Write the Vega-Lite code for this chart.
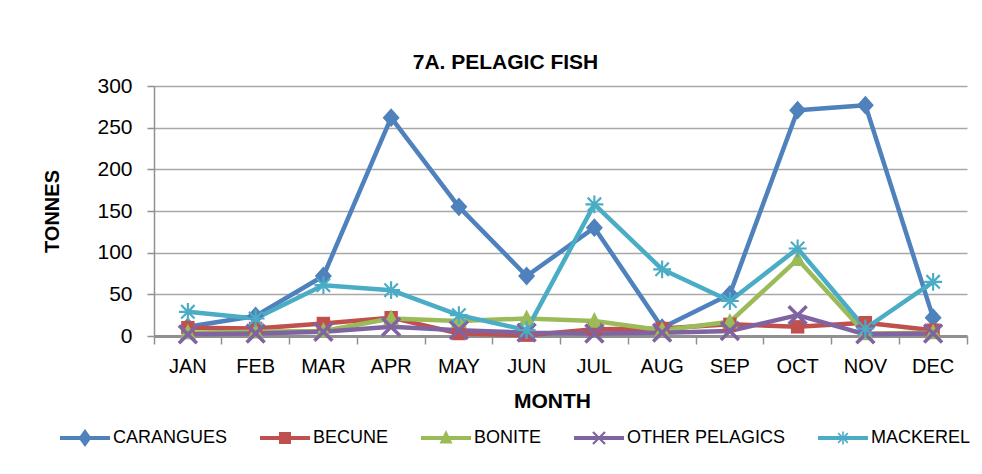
{
  "$schema": "https://vega.github.io/schema/vega-lite/v6.json",
  "width": 813,
  "height": 250,
  "autosize": "none",
  "padding": {"left": 154, "top": 86, "right": 15, "bottom": 138},
  "background": "white",
  "title": {
    "text": "7A. PELAGIC FISH",
    "font": "Liberation Sans",
    "fontSize": 21,
    "fontWeight": "bold",
    "color": "black",
    "anchor": "middle",
    "dx": -55,
    "offset": 2
  },
  "data": {
    "values": [
      {"month": "JAN", "series": "CARANGUES", "tonnes": 11},
      {"month": "FEB", "series": "CARANGUES", "tonnes": 24},
      {"month": "MAR", "series": "CARANGUES", "tonnes": 72},
      {"month": "APR", "series": "CARANGUES", "tonnes": 262},
      {"month": "MAY", "series": "CARANGUES", "tonnes": 155},
      {"month": "JUN", "series": "CARANGUES", "tonnes": 72},
      {"month": "JUL", "series": "CARANGUES", "tonnes": 130},
      {"month": "AUG", "series": "CARANGUES", "tonnes": 10},
      {"month": "SEP", "series": "CARANGUES", "tonnes": 50},
      {"month": "OCT", "series": "CARANGUES", "tonnes": 271},
      {"month": "NOV", "series": "CARANGUES", "tonnes": 277},
      {"month": "DEC", "series": "CARANGUES", "tonnes": 22},
      {"month": "JAN", "series": "BECUNE", "tonnes": 10},
      {"month": "FEB", "series": "BECUNE", "tonnes": 9},
      {"month": "MAR", "series": "BECUNE", "tonnes": 15},
      {"month": "APR", "series": "BECUNE", "tonnes": 22},
      {"month": "MAY", "series": "BECUNE", "tonnes": 3},
      {"month": "JUN", "series": "BECUNE", "tonnes": 1},
      {"month": "JUL", "series": "BECUNE", "tonnes": 8},
      {"month": "AUG", "series": "BECUNE", "tonnes": 9},
      {"month": "SEP", "series": "BECUNE", "tonnes": 14},
      {"month": "OCT", "series": "BECUNE", "tonnes": 11},
      {"month": "NOV", "series": "BECUNE", "tonnes": 16},
      {"month": "DEC", "series": "BECUNE", "tonnes": 7},
      {"month": "JAN", "series": "BONITE", "tonnes": 4},
      {"month": "FEB", "series": "BONITE", "tonnes": 5},
      {"month": "MAR", "series": "BONITE", "tonnes": 6},
      {"month": "APR", "series": "BONITE", "tonnes": 21},
      {"month": "MAY", "series": "BONITE", "tonnes": 18},
      {"month": "JUN", "series": "BONITE", "tonnes": 21},
      {"month": "JUL", "series": "BONITE", "tonnes": 18},
      {"month": "AUG", "series": "BONITE", "tonnes": 7},
      {"month": "SEP", "series": "BONITE", "tonnes": 17},
      {"month": "OCT", "series": "BONITE", "tonnes": 92},
      {"month": "NOV", "series": "BONITE", "tonnes": 3},
      {"month": "DEC", "series": "BONITE", "tonnes": 4},
      {"month": "JAN", "series": "OTHER PELAGICS", "tonnes": 2},
      {"month": "FEB", "series": "OTHER PELAGICS", "tonnes": 3},
      {"month": "MAR", "series": "OTHER PELAGICS", "tonnes": 5},
      {"month": "APR", "series": "OTHER PELAGICS", "tonnes": 11},
      {"month": "MAY", "series": "OTHER PELAGICS", "tonnes": 7},
      {"month": "JUN", "series": "OTHER PELAGICS", "tonnes": 4},
      {"month": "JUL", "series": "OTHER PELAGICS", "tonnes": 3},
      {"month": "AUG", "series": "OTHER PELAGICS", "tonnes": 4},
      {"month": "SEP", "series": "OTHER PELAGICS", "tonnes": 6},
      {"month": "OCT", "series": "OTHER PELAGICS", "tonnes": 25},
      {"month": "NOV", "series": "OTHER PELAGICS", "tonnes": 2},
      {"month": "DEC", "series": "OTHER PELAGICS", "tonnes": 3},
      {"month": "JAN", "series": "MACKEREL", "tonnes": 29},
      {"month": "FEB", "series": "MACKEREL", "tonnes": 21},
      {"month": "MAR", "series": "MACKEREL", "tonnes": 61},
      {"month": "APR", "series": "MACKEREL", "tonnes": 55},
      {"month": "MAY", "series": "MACKEREL", "tonnes": 25},
      {"month": "JUN", "series": "MACKEREL", "tonnes": 7},
      {"month": "JUL", "series": "MACKEREL", "tonnes": 158},
      {"month": "AUG", "series": "MACKEREL", "tonnes": 80},
      {"month": "SEP", "series": "MACKEREL", "tonnes": 42},
      {"month": "OCT", "series": "MACKEREL", "tonnes": 105},
      {"month": "NOV", "series": "MACKEREL", "tonnes": 9},
      {"month": "DEC", "series": "MACKEREL", "tonnes": 65}
    ]
  },
  "encoding": {
    "x": {
      "field": "month",
      "type": "ordinal",
      "sort": ["JAN","FEB","MAR","APR","MAY","JUN","JUL","AUG","SEP","OCT","NOV","DEC"],
      "bandPosition": 0.5,
      "scale": {"type": "band", "paddingInner": 0, "paddingOuter": 0},
      "title": "MONTH",
      "axis": {
        "labelAngle": 0,
        "bandPosition": 1,
        "tickExtra": true,
        "grid": false,
        "domainColor": "#909090",
        "domainWidth": 3,
        "tickColor": "#909090",
        "tickWidth": 1.5,
        "tickSize": 8,
        "labelPadding": 12,
        "labelFont": "Liberation Sans",
        "labelFontSize": 20,
        "labelColor": "black",
        "titleFont": "Liberation Sans",
        "titleFontSize": 21,
        "titleFontWeight": "bold",
        "titleColor": "black",
        "titleX": 398,
        "titlePadding": 14
      }
    },
    "y": {
      "field": "tonnes",
      "type": "quantitative",
      "scale": {"domain": [0, 300], "nice": false, "zero": true},
      "title": "TONNES",
      "axis": {
        "values": [0, 50, 100, 150, 200, 250, 300],
        "grid": true,
        "gridColor": "#A8A8A8",
        "gridWidth": 1.5,
        "domainColor": "#909090",
        "domainWidth": 1.5,
        "tickColor": "#909090",
        "tickWidth": 1.5,
        "tickSize": 7,
        "labelPadding": 15,
        "labelFont": "Liberation Sans",
        "labelFontSize": 21,
        "labelColor": "black",
        "titleFont": "Liberation Sans",
        "titleFontSize": 20,
        "titleFontWeight": "bold",
        "titleColor": "black",
        "titlePadding": 34
      }
    },
    "color": {
      "field": "series",
      "type": "nominal",
      "scale": {
        "domain": ["CARANGUES", "BECUNE", "BONITE", "OTHER PELAGICS", "MACKEREL"],
        "range": ["#4F81BD", "#C0504D", "#9BBB59", "#8064A2", "#4BACC6"]
      },
      "legend": {
        "orient": "none",
        "direction": "horizontal",
        "columns": 5,
        "legendX": -94,
        "legendY": 342,
        "padding": 0,
        "title": null,
        "symbolSize": 400,
        "symbolOffset": 15,
        "symbolStrokeWidth": 0,
        "symbolOpacity": 1,
        "labelOffset": 18,
        "labelFont": "Liberation Sans",
        "labelFontSize": 18,
        "labelColor": "black",
        "labelLimit": 300,
        "columnPadding": 32,
        "encode": {
          "symbols": {
            "update": {
              "shape": {
                "signal": "datum.value === 'CARANGUES' ? 'M-2.5,-0.2H2.5V0.2H-2.5Z M0,-0.9L0.65,0L0,0.9L-0.65,0Z' : datum.value === 'BECUNE' ? 'M-2.5,-0.2H2.5V0.2H-2.5Z M-0.6,-0.6H0.6V0.6H-0.6Z' : datum.value === 'BONITE' ? 'M-2.5,-0.2H2.5V0.2H-2.5Z M0,-0.8L0.65,0.55L-0.65,0.55Z' : datum.value === 'OTHER PELAGICS' ? 'M-2.5,-0.2H2.5V0.2H-2.5Z M-0.52,-0.68L0.68,0.52L0.52,0.68L-0.68,-0.52Z M-0.52,0.68L-0.68,0.52L0.52,-0.68L0.68,-0.52Z' : 'M-2.5,-0.2H2.5V0.2H-2.5Z M-0.65,-0.08H0.65V0.08H-0.65Z M0.08,-0.65L0.08,0.65L-0.08,0.65L-0.08,-0.65Z M-0.43,-0.54L0.54,0.43L0.43,0.54L-0.54,-0.43Z M-0.43,0.54L-0.54,0.43L0.43,-0.54L0.54,-0.43Z'"
              },
              "fill": {"scale": "color", "field": "value"},
              "stroke": {"value": "transparent"},
              "strokeWidth": {"value": 0}
            }
          }
        }
      }
    }
  },
  "layer": [
    {
      "mark": {"type": "line", "strokeWidth": 4.5, "strokeJoin": "round", "strokeCap": "round"}
    },
    {
      "transform": [{"filter": "datum.series === 'CARANGUES'"}],
      "mark": {"type": "point", "filled": true, "opacity": 1, "size": 320, "shape": "M0,-1.05L0.95,0L0,1.05L-0.95,0Z"}
    },
    {
      "transform": [{"filter": "datum.series === 'BECUNE'"}],
      "mark": {"type": "point", "filled": true, "opacity": 1, "size": 320, "shape": "M-0.75,-0.75H0.75V0.75H-0.75Z"}
    },
    {
      "transform": [{"filter": "datum.series === 'BONITE'"}],
      "mark": {"type": "point", "filled": true, "opacity": 1, "size": 320, "shape": "M0,-1L0.9,0.75L-0.9,0.75Z"}
    },
    {
      "transform": [{"filter": "datum.series === 'OTHER PELAGICS'"}],
      "mark": {"type": "point", "filled": true, "opacity": 1, "size": 320, "shape": "M-0.86,-1.14L1.14,0.86L0.86,1.14L-1.14,-0.86Z M-0.86,1.14L-1.14,0.86L0.86,-1.14L1.14,-0.86Z"}
    },
    {
      "transform": [{"filter": "datum.series === 'MACKEREL'"}],
      "mark": {"type": "point", "filled": true, "opacity": 1, "size": 320, "shape": "M-1,-0.12H1V0.12H-1Z M0.12,-1L0.12,1L-0.12,1L-0.12,-1Z M-0.665,-0.835L0.835,0.665L0.665,0.835L-0.835,-0.665Z M-0.665,0.835L-0.835,0.665L0.665,-0.835L0.835,-0.665Z"}
    }
  ],
  "config": {
    "view": {"stroke": null}
  }
}
